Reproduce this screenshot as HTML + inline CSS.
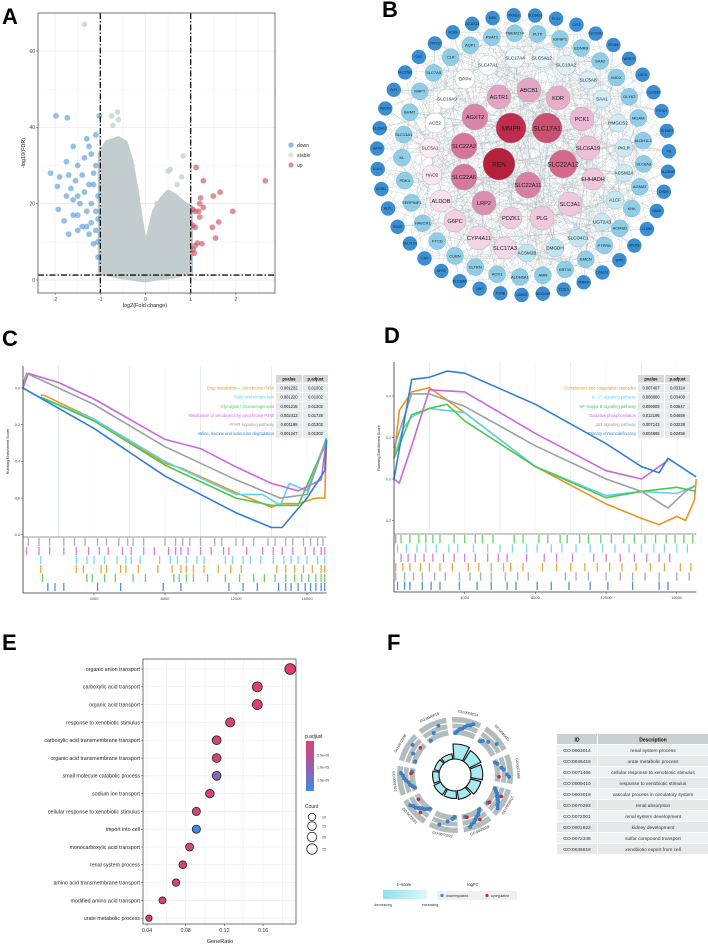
<!DOCTYPE html>
<html><head><meta charset="utf-8">
<style>
html,body{margin:0;padding:0;background:#fff;}
svg{display:block;font-family:"Liberation Sans",Arial,sans-serif;}
</style></head>
<body>
<svg id="fig" width="708" height="945" viewBox="0 0 708 945" xmlns="http://www.w3.org/2000/svg">
<rect width="708" height="945" fill="#fff"/>
<text x="2" y="24" font-size="22" font-weight="bold">A</text>
<text x="382" y="17" font-size="22" font-weight="bold">B</text>
<text x="2" y="346" font-size="22" font-weight="bold">C</text>
<text x="384" y="343" font-size="22" font-weight="bold">D</text>
<text x="2" y="650" font-size="22" font-weight="bold">E</text>
<text x="387" y="650" font-size="22" font-weight="bold">F</text>
<g id="pa"></g>
<g id="pb"></g>
<g id="pc"></g>
<g id="pd"></g>
<g id="pe"></g>
<g id="pf"></g>
</svg>
<script>
// ---------- DATA ----------
// Panel A volcano
const blueX=[-1.98,-1.73,-1.02,-1.6,-1.75,-1.9,-2.1,-1.95,-1.93,-1.8,-1.7,-1.5,-1.4,-1.3,-1.25,-1.2,-1.1,-1.5,-1.55,-1.6,-1.4,-1.45,-1.35,-1.25,-1.2,-1.15,-1.1,-1.05,-1.1,-1.05,-1.15,-1.3,-1.3,-1.75,-1.7,-1.65,-1.5,-1.35,-1.2,-1.05,-1.05,-1.1,-1.15,-1.6,-1.25,-1.5];
const blueY=[43,42.5,43,35,31,27,28,24.5,18.5,15.5,12,13,14,37,35,33,38,30,26,21,27.5,20,23,25,20,28,18,16,13,10,9.5,18,14,22,27.5,24,22,32,15,22,6,30,25,17,12,17];
const redX=[1.12,1.28,1.65,1.5,2.65,1.22,1.2,1.28,1.05,1.1,1.18,1.93,1.2,1.62,1.05,1.1,1.48,1.55,1.25,1.1,1.15,1.05,1.08];
const redY=[29.5,26,23,22,26,21.5,20,19,18.5,18,18,18,16.5,15.2,14.3,13.8,13.8,11,9.5,9,9.7,8,7];
const grayX=[-1.35,-0.62,-0.6,-0.75,-0.72,0.83,0.55,0.5,0.8,-0.85,-0.9,0.9,0.95,-0.95,-0.3,0.25,0.7,-0.8];
const grayY=[67,44,42,43,40.5,32.5,29,28.5,27,4,8,5,12,20,30,20,25,3];
const envX=[-1.0,-1.0,-0.85,-0.6,-0.45,-0.32,-0.2,-0.1,0,0.1,0.2,0.35,0.5,0.65,0.85,1.0,1.0,0.6,0.25,0,-0.3,-0.6];
const envY=[2,33,36,37,36,31,23,15,8,13,18,21,23,22,20,19,2,1,0.5,0,0.5,1];
// Panel E dot plot
const goTerms=["organic anion transport","carboxylic acid transport","organic acid transport","response to xenobiotic stimulus","carboxylic acid transmembrane transport","organic acid transmembrane transport","small molecule catabolic process","sodium ion transport","cellular response to xenobiotic stimulus","import into cell","monocarboxylic acid transport","renal system process","amino acid transmembrane transport","modified amino acid transport","urate metabolic process"];
const geneRatio=[0.188,0.154,0.154,0.126,0.112,0.112,0.112,0.105,0.091,0.091,0.084,0.077,0.070,0.056,0.042];
const goCount=[27,22,22,18,16,16,16,15,13,13,12,11,10,8,6];
const pAdjust=[1e-6,1e-6,1e-6,1.5e-6,2e-6,2e-6,1.05e-5,2e-6,2e-6,1.75e-5,2.5e-6,1.5e-6,1.5e-6,2e-6,1e-6];
const eTicks=[0.04,0.08,0.12,0.16];
// Panel C GSEA
const cNames=["Drug metabolism \u2013 cytochrome P450","Fatty acid metabolism","Glycolysis / Gluconeogenesis","Metabolism of xenobiotics by cytochrome P450","PPAR signaling pathway","Valine, leucine and isoleucine degradation"];
const cPval=["0.001232","0.001220","0.001215","0.002413","0.001189","0.001247"];
const cPadj=["0.01302","0.01302","0.01302","0.01728","0.01302","0.01302"];
const cColors=["#e8961e","#5ed1f2","#4cc94c","#cc66dd","#9aa0a3","#2f7fd8"];
const cRankX=[[1000,1200,4000,8000,9000,12000,14000,14500,15500,16500,17000,17100],[1000,4000,8000,12000,13500,14500,15000,16000,17100],[1000,4000,8000,12000,14000,15500,16500,17100],[0,300,2000,4000,8000,10000,12000,14000,15500,16800,17100],[0,200,2000,4000,8000,12000,14500,16000,17100],[0,4000,8000,12000,14000,14600,16000,17000,17100]];
const cES=[[-0.04,-0.04,-0.17,-0.41,-0.44,-0.57,-0.65,-0.63,-0.63,-0.6,-0.6,-0.28],[-0.05,-0.17,-0.40,-0.58,-0.58,-0.64,-0.52,-0.56,-0.27],[-0.05,-0.18,-0.42,-0.60,-0.64,-0.64,-0.42,-0.30],[0,0.08,0.03,-0.06,-0.28,-0.33,-0.43,-0.52,-0.56,-0.5,-0.28],[0.02,0.08,0.0,-0.09,-0.32,-0.5,-0.6,-0.58,-0.28],[0,-0.22,-0.48,-0.68,-0.76,-0.76,-0.60,-0.45,-0.28]];
const cRugOrder=[4,3,1,0,2,5];
const cRug=[[300,900,1500,2300,2900,3500,4200,4700,5400,5900,6200,6800,8000,8600,9000,9400,10000,10800,11200,12000,12400,13000,13800,14200,14800,15200,15800,16200,16600,16900],[200,900,1500,2300,3000,3700,4300,4800,5600,6100,6800,7400,8200,8600,8900,9300,10000,10600,11300,11600,12600,13500,14100,14600,15200,15900,16400,16800,17000],[1000,3000,3600,4000,4600,5300,5800,6100,6600,7700,8300,8700,9200,9800,10200,11400,11800,12400,12800,13400,14100,14700,15100,15500,16000,16600,17000],[1000,3000,3400,4400,4700,5500,5800,6500,7600,8400,8900,9200,9600,10200,11000,11700,12300,14300,14800,15300,15800,16300,16800,17000],[1100,3600,3900,4600,5200,6200,6900,8500,8800,9200,9600,10400,11400,12200,13000,13600,14200,14800,15300,15700,16100,16500,16800,17000],[1400,1800,2300,4200,5500,7900,8900,11600,12400,13200,14400,14800,15100,15500,15900,16200,16500,16800,17000]];
// Panel D GSEA
const dNames=["Complement and coagulation cascades","IL\u221217 signaling pathway","NF\u2212kappa B signaling pathway","Oxidative phosphorylation","p53 signaling pathway","Primary immunodeficiency"];
const dPval=["0.007407","0.008000","0.009009","0.012195","0.007143","0.004695"];
const dPadj=["0.03314","0.03409","0.03647","0.04659","0.03238","0.02456"];
const dRankX=[[0,300,1000,2000,4000,8000,12000,14000,15000,16000,16500,17000,17100],[0,500,1000,2000,4000,8000,12000,14000,16000,17100],[0,1000,2000,3000,4000,8000,12000,14000,16000,17100],[0,300,1000,2000,4000,8000,12000,14000,15500],[0,1000,2000,3000,4000,8000,12000,14000,15500,16500,17100],[0,1000,2000,3000,4000,8000,12000,14000,15000,15500,17100]];
const dES=[[0.1,0.33,0.42,0.44,0.32,0.06,-0.12,-0.19,-0.22,-0.18,-0.2,-0.1,0.0],[0.1,0.24,0.3,0.34,0.32,0.06,-0.08,-0.06,-0.07,-0.03],[0.1,0.31,0.34,0.36,0.28,0.06,-0.09,-0.06,-0.04,-0.06],[0,-0.02,0.16,0.43,0.42,0.22,0.04,0.0,0.09],[0.15,0.41,0.41,0.38,0.35,0.16,0.0,-0.06,-0.14,-0.06,-0.03],[0,0.48,0.49,0.52,0.51,0.36,0.17,0.06,0.03,0.1,0.01]];
const dRugOrder=[2,1,3,0,4,5];
const dRug=[[100,400,900,1400,1800,2200,2600,3400,4000,4600,5000,5600,6800,7300,8200,8700,9400,9800,10500,11000,11700,12300,13000,13600,14200,14800,15400,15900,16400,16900],[200,700,1300,1800,2400,3100,3600,4500,5300,6000,6700,7500,8100,8900,9500,10300,11100,11800,12500,13300,14000,14700,15300,16000,16600],[400,800,1200,1700,2200,2800,3400,4000,4600,5300,5900,6400,7500,8500,9200,10100,11300,12000,12800,13600,14300,15000,15600],[100,500,900,1500,2000,2600,3300,4200,4800,5500,6200,6600,7300,8400,9200,10000,10800,11500,12200,12900,13700,14500,15300,16200,16800],[100,600,1100,1600,2300,2900,3700,4300,4900,5500,6300,7000,7600,9700,10300,11000,12000,12800,13500,14200,15000,16000,16700],[200,600,900,1600,2100,2600,3700,4700,5500,6400,6900,8100,8900,9900,11100,12100,13500,15000,15500]];
// Panel F
const fIds=["GO:0003014","GO:0046415","GO:0071466","GO:0009410","GO:0003018","GO:0070293","GO:0072001","GO:0001822","GO:0072348","GO:0046618"];
const fDesc=["renal system process","urate metabolic process","cellular response to xenobiotic stimulus","response to xenobiotic stimulus","vascular process in circulatory system","renal absorption","renal system development","kidney development","sulfur compound transport","xenobiotic export from cell"];
const fCount=[14,12,11,10,8,7,7,6,5,5];
const fDown=[8,4,6,10,9,4,8,9,3,3];
const fUp=[0,0,1,2,2,0,2,1,1,0];

// ---------- HELPERS ----------
const NS="http://www.w3.org/2000/svg";
function mk(tag,parent,attrs){const e=document.createElementNS(NS,tag);for(const k in attrs)e.setAttribute(k,attrs[k]);parent.appendChild(e);return e;}
function txt(parent,x,y,s,size,anchor,fill,extra){const e=mk('text',parent,Object.assign({x:x,y:y,'font-size':size,'text-anchor':anchor||'start',fill:fill||'#222'},extra||{}));e.textContent=s;return e;}

// ---------- PANEL A ----------
(function(){
const g=document.getElementById('pa');
const L=38,R=275,T=13,B=293;
const sx=v=>145.5+v*45.2, sy=v=>280-v*3.817;
let e;
e=mk('rect',g,{x:L,y:T,width:R-L,height:B-T,fill:'#fff'});


for(let v=-2;v<=2.6;v+=0.5){e=mk('line',g,{x1:sx(v),x2:sx(v),y1:T,y2:B,stroke:'#e6ecee','stroke-width':Number.isInteger(v)?0.7:0.4});}
for(let v=0;v<=70;v+=10){e=mk('line',g,{x1:L,x2:R,y1:sy(v),y2:sy(v),stroke:'#e6ecee','stroke-width':v%20==0?0.7:0.4});}
let d='';for(let i=0;i<envX.length;i++)d+=(i?'L':'M')+sx(envX[i])+','+sy(envY[i]);
e=mk('path',g,{d:d+'Z',fill:'#c3cdcf',stroke:'#c3cdcf','stroke-width':5,'stroke-linejoin':'round'});


for(let i=0;i<grayX.length;i++){e=mk('circle',g,{cx:sx(grayX[i]),cy:sy(grayY[i]),r:2.8,fill:'#c3cdcf','fill-opacity':0.75});

}
for(let i=0;i<blueX.length;i++){e=mk('circle',g,{cx:sx(blueX[i]),cy:sy(blueY[i]),r:2.9,fill:'#3b8bd6','fill-opacity':0.55});

}
for(let i=0;i<redX.length;i++){e=mk('circle',g,{cx:sx(redX[i]),cy:sy(redY[i]),r:2.9,fill:'#cf4455','fill-opacity':0.6});

}
const da={stroke:'#111','stroke-width':1.3,'stroke-dasharray':'6,2,1.5,2'};
e=mk('line',g,Object.assign({x1:sx(-1),x2:sx(-1),y1:T,y2:B},da));


e=mk('line',g,Object.assign({x1:sx(1),x2:sx(1),y1:T,y2:B},da));


e=mk('line',g,Object.assign({x1:L,x2:R,y1:sy(1.3),y2:sy(1.3)},da));


e=mk('rect',g,{x:L,y:T,width:R-L,height:B-T,fill:'none',stroke:'#555','stroke-width':0.8});


[-2,-1,0,1,2].forEach(v=>{mk('line',g,{x1:sx(v),x2:sx(v),y1:B,y2:B+2,stroke:'#333','stroke-width':0.5});e=txt(g,sx(v),B+8,String(v),5,'middle','#444');

});
[0,20,40,60].forEach(v=>{mk('line',g,{x1:L-2,x2:L,y1:sy(v),y2:sy(v),stroke:'#333','stroke-width':0.5});e=txt(g,L-3,sy(v)+1.8,String(v),5,'end','#444');

});
e=txt(g,145,307,'log2(Fold change)',5.5,'middle','#222');


e=txt(g,0,0,'-log10(FDR)',5.5,'middle','#222',{transform:'translate(25,153) rotate(-90)'});


[['down','#3b8bd6',145],['stable','#c3cdcf',155],['up','#cf4455',165]].forEach(a=>{
e=mk('circle',g,{cx:291,cy:a[2],r:2.6,fill:a[1],'fill-opacity':0.6});


e=txt(g,297,a[2]+1.8,a[0],5,'start','#333');

});
})();

// ---------- PANEL B ----------
(function(){
const g=document.getElementById('pb');
const inner=[["REN",499,164,16,"#b5203a"],["MMP9",511,128,15,"#c02c4d"],["SLC17A1",547,128,15,"#cc4f72"],["SLC22A12",563,164,14,"#d4678a"],["SLC22A2",464,146,13,"#d77599"],["SLC22A6",464,177,13,"#d67899"],["SLC22A11",528,185,13,"#d980a2"],["AGXT2",475,117,13,"#d985a6"],["LRP2",484,203,12,"#db8fb0"],["AGTR1",499,97,12,"#e2a4c2"],["ABCB1",529,90,12,"#e3a7c5"],["KDR",558,98,12,"#e6acc8"],["PCK1",582,119,12,"#eab8d2"],["SLC6A19",588,148,12,"#edc0d8"],["EHHADH",593,179,11,"#efc6da"],["SLC3A1",570,204,12,"#f0c7dc"],["PLG",542,218,12,"#f0c8dd"],["PDZK1",511,218,11,"#f0cadf"],["G6PC",455,221,11,"#f2cfe1"],["CYP4A11",479,238,12,"#f4d4e6"],["SLC17A3",505,248,11,"#f5d8e8"],["ALDOB",441,201,11,"#f7e0ec"],["HAO2",432,175,10,"#fae6f0"],["SLC5A1",430,148,10,"#fbecf3"],["ACE2",435,123,10,"#ffffff"],["SLC16A9",447,99,10,"#ffffff"],["DPP4",465,79,10,"#ffffff"],["SLC47A1",488,65,10,"#f7fbfd"],["SLC17A4",515,58,10,"#eef6fb"],["SLC5A12",542,58,10,"#e8f3f9"],["SLC10A2",566,65,10,"#e0f0f7"],["SLC5A8",588,80,9,"#d7eef5"],["SAA1",602,99,9,"#d3ecf4"],["HMGCS2",618,123,9,"#d0ebf3"],["PKLR",624,148,9,"#cdeaf2"],["ACSM2A",624,173,9,"#cbe9f2"],["A1CF",615,200,9,"#c8e8f1"],["UGT2A3",602,222,9,"#c6e7f1"],["SLCO4C1",578,238,9,"#c3e5f0"],["DMGDH",555,248,9,"#c0e4f0"],["ACSM2B",527,253,9,"#bde3ef"]];
const ring2=["TMEM174","PLTP","IGFBP1","EDNRB","SAA2","MIOX","GLYAT","MGAM","ALDH1L1","SLC6A3","AGMAT","KHK","ACMSD","PTPRB","EMCN","KRT19","AMN","ALDH6A1","AOX1","CLTRN","CUBN","FTCD","HAVCR1","SERPINF1","PDK4","KL","SLC13A1","BHMT","MAPT","SLC7A5","C1R","AQP1","PSAT1"];
const ring1=["MDK","PKHD1","SLC5A10","PLS1","CYS1","SLCO2A1","EFNA5","WDR72","LIN7A","C1orf210","PTHLH","STEAP3","PG","SLC39A5","DHDH","SBDS","CLDN2","SPON1","SPP2","LGALS2","SMIM24","C1QL1","SELENOP","CAVIN2","TGFBI","LBP","SLC38A5","NPR3","CA4","SULT1C4","RGS5","ALPL","UCHL1","IGLL5","GATM","SLC6A18","PDGFD","SLPI","SLC27A2","DDC","CYP2J2","SCGN","SLC6A13"];
const cx=523,cy=155;
const nodes=[];
ring1.forEach((n,i)=>{const a=(-102+360*i/ring1.length)*Math.PI/180;nodes.push([n,cx+146*Math.cos(a),cy+140*Math.sin(a),7,'#3a8fd4',3.2,'#2a76b6']);});
ring2.forEach((n,i)=>{const a=(-94+360*i/ring2.length)*Math.PI/180;nodes.push([n,cx+121*Math.cos(a),cy+122*Math.sin(a),8.5,'#8fcce5',4,'#6fb2cf']);});
inner.slice().reverse().forEach(n=>nodes.push([n[0],n[1],n[2],n[3],n[4],n[3]>=14?6.5:(n[3]>=11?5.6:4.6),'#9aa8ae']));
const eg=mk('g',g,{stroke:'#a9b6ba','stroke-width':0.35,'stroke-opacity':0.7});


const N=nodes.length;
for(let i=0;i<N;i++)for(let j=i+1;j<N;j++){if(i<ring1.length&&j<ring1.length)continue;if(((i*31+j*17)%11)==0){mk('line',eg,{x1:nodes[i][1].toFixed(1),y1:nodes[i][2].toFixed(1),x2:nodes[j][1].toFixed(1),y2:nodes[j][2].toFixed(1)});}}
nodes.forEach(n=>{
const ng=mk('g',g,{});


mk('circle',ng,{cx:n[1].toFixed(1),cy:n[2].toFixed(1),r:n[3],fill:n[4],stroke:n[6],'stroke-width':0.4});
txt(ng,n[1].toFixed(1),(n[2]+n[5]*0.35).toFixed(1),n[0],n[5],'middle','#1a1a1a');
});
})();

// ---------- GSEA builder ----------
function gsea(gid,P){
const g=document.getElementById(gid);
const sx=v=>P.x0+v*P.kx, sy=v=>P.y0-v*P.ky;
let e;
P.grid.forEach(v=>{e=mk('line',g,{x1:sx(v),x2:sx(v),y1:P.top,y2:P.esB,stroke:'#e4ebee','stroke-width':0.9});});
P.ticks.forEach(v=>{e=mk('line',g,{x1:sx(v),x2:sx(v),y1:P.top,y2:P.esB,stroke:'#eef2f4','stroke-width':0.5});});
for(let s=0;s<6;s++){
let pts=P.rx[s].map((v,i)=>sx(v).toFixed(1)+','+sy(P.es[s][i]).toFixed(1)).join(' ');
e=mk('polyline',g,{points:pts,fill:'none',stroke:P.col[s],'stroke-width':1.6,'stroke-linejoin':'round'});


}
// rugs
const rh=(P.axB-P.esB-2)/6;
P.order.forEach((s,row)=>{
const y1=P.esB+1+row*rh;
P.rug[row].forEach(v=>{e=mk('line',g,{x1:sx(v),x2:sx(v),y1:y1,y2:y1+rh-1,stroke:P.col[s],'stroke-width':1.3,'stroke-opacity':0.85});});
});
mk('line',g,{x1:P.x0,x2:P.x0,y1:P.top,y2:P.axB,stroke:'#333','stroke-width':0.8});
mk('line',g,{x1:P.x0,x2:sx(17100),y1:P.esB,y2:P.esB,stroke:'#333','stroke-width':0.6});
mk('line',g,{x1:P.x0,x2:sx(17100),y1:P.axB,y2:P.axB,stroke:'#333','stroke-width':0.8});
P.yt.forEach(v=>{mk('line',g,{x1:P.x0-2,x2:P.x0,y1:sy(v),y2:sy(v),stroke:'#333','stroke-width':0.5});e=txt(g,P.x0-3,sy(v)+1.3,v.toFixed(1),3.6,'end','#444');

});
P.ticks.forEach(v=>{mk('line',g,{x1:sx(v),x2:sx(v),y1:P.axB,y2:P.axB+2,stroke:'#333','stroke-width':0.5});e=txt(g,sx(v),P.axB+7,String(v),4,'middle','#444');

});
e=txt(g,0,0,'Running Enrichment Score',3.8,'middle','#222',{transform:'translate('+(P.x0-14)+','+((P.top+P.esB)/2)+') rotate(-90)'});


// table
const tb=mk('g',g,{});


mk('rect',tb,{x:P.tx,y:P.ty,width:26,height:7.5,fill:'#d3d9d9'});
mk('rect',tb,{x:P.tx+27,y:P.ty,width:25,height:7.5,fill:'#d3d9d9'});
txt(tb,P.tx+13,P.ty+5.5,'pvalue',4.2,'middle','#111',{'font-weight':'bold'});
txt(tb,P.tx+39.5,P.ty+5.5,'p.adjust',4.2,'middle','#111',{'font-weight':'bold'});
for(let i=0;i<6;i++){const y=P.ty+9+i*9.1;
mk('rect',tb,{x:P.tx,y:y,width:26,height:8.3,fill:'#e7ebeb'});
mk('rect',tb,{x:P.tx+27,y:y,width:25,height:8.3,fill:'#e7ebeb'});
txt(tb,P.tx+13,y+5.6,P.pv[i],4.1,'middle','#111');
txt(tb,P.tx+39.5,y+5.6,P.pa[i],4.1,'middle','#111');
e=txt(g,P.tx-2,y+5.6,P.names[i],4.1,'end',P.col[i]);

}
}
gsea('pc',{x0:23,kx:71/4000,y0:388,ky:36.7/0.2,top:366,esB:537,axB:593,grid:[2000,6000,10000,14000],ticks:[4000,8000,12000,16000],yt:[0,-0.2,-0.4,-0.6,-0.8],col:cColors,rx:cRankX,es:cES,order:cRugOrder,rug:cRug,tx:276,ty:375,pv:cPval,pa:cPadj,names:cNames});
gsea('pd',{x0:394,kx:70.7/4000,y0:479,ky:41.5/0.2,top:362,esB:534,axB:592,grid:[2000,6000,10000,14000],ticks:[4000,8000,12000,16000],yt:[0.4,0.2,0,-0.2],col:cColors,rx:dRankX,es:dES,order:dRugOrder,rug:dRug,tx:638,ty:375,pv:dPval,pa:dPadj,names:dNames});

// ---------- PANEL E ----------
(function(){
const g=document.getElementById('pe');
const L=143,R=296,T=659,B=924;
const sx=v=>147+(v-0.04)*38.7/0.04, sy=i=>669+i*17.8;
const rad=c=>1.2+Math.sqrt(c)*0.8;
function col(p){const t=Math.min(1,Math.max(0,(p-1e-6)/(1.8e-5-1e-6)));const a=[224,64,112],b=[60,140,230];return 'rgb('+a.map((v,i)=>Math.round(v+(b[i]-v)*t)).join(',')+')';}
let e;
mk('rect',g,{x:L,y:T,width:R-L,height:B-T,fill:'#fff'});
for(let v=0.04;v<=0.2;v+=0.02){mk('line',g,{x1:sx(v),x2:sx(v),y1:T,y2:B,stroke:'#e6ecee','stroke-width':0.5});}
goTerms.forEach((t,i)=>{mk('line',g,{x1:L,x2:R,y1:sy(i),y2:sy(i),stroke:'#e6ecee','stroke-width':0.6});
mk('line',g,{x1:L-2,x2:L,y1:sy(i),y2:sy(i),stroke:'#333','stroke-width':0.5});
e=txt(g,L-3,sy(i)+1.9,t,5.3,'end','#222');


e=mk('circle',g,{cx:sx(geneRatio[i]),cy:sy(i),r:rad(goCount[i]),fill:col(pAdjust[i]),stroke:'#222','stroke-width':0.8});

});
e=mk('rect',g,{x:L,y:T,width:R-L,height:B-T,fill:'none',stroke:'#555','stroke-width':0.8});


eTicks.forEach(v=>{mk('line',g,{x1:sx(v),x2:sx(v),y1:B,y2:B+2,stroke:'#333','stroke-width':0.5});e=txt(g,sx(v),B+8,v.toFixed(2),5.3,'middle','#333');

});
e=txt(g,220,943,'GeneRatio',5.5,'middle','#222');


const df=mk('defs',g,{});const lg=mk('linearGradient',df,{id:'pgrad',x1:0,y1:0,x2:0,y2:1});
mk('stop',lg,{offset:'0','stop-color':'#e04070'});mk('stop',lg,{offset:'0.5','stop-color':'#9c5bb0'});mk('stop',lg,{offset:'1','stop-color':'#3c8ce6'});
e=txt(g,305,738,'p.adjust',5,'start','#222');


e=mk('rect',g,{x:306,y:741,width:8,height:50,fill:'url(#pgrad)'});


[['5.0e-06',755],['1.0e-05',767],['1.5e-05',780]].forEach(a=>{e=txt(g,317,a[1]+1.3,a[0],3.6,'start','#333');

});
e=txt(g,305,808,'Count',5,'start','#222');


[[10,817],[15,826],[20,837],[25,849]].forEach(a=>{mk('circle',g,{cx:312,cy:a[1],r:rad(a[0]),fill:'none',stroke:'#222','stroke-width':0.8});
e=txt(g,322,a[1]+1.3,String(a[0]),3.6,'start','#333');

});
})();

// ---------- PANEL F ----------
(function(){
const g=document.getElementById('pf');
const cx=455,cy=775;
const P=(r,a)=>[cx+r*Math.cos(a),cy+r*Math.sin(a)];
function arc(r1,r2,a1,a2){const p1=P(r2,a1),p2=P(r2,a2),p3=P(r1,a2),p4=P(r1,a1);return 'M'+p1+' A'+r2+','+r2+' 0 0 1 '+p2+' L'+p3+' A'+r1+','+r1+' 0 0 0 '+p4+' Z';}
let e;
const maxC=Math.max(...fCount);
fIds.forEach((id,k)=>{
const ac=(-78+36*k)*Math.PI/180, hw=15*Math.PI/180;
const sg=mk('g',g,{});


mk('path',sg,{d:arc(40,58,ac-hw,ac+hw),fill:'#b2bcbe'});
[46,52].forEach(r=>mk('path',sg,{d:arc(r-0.6,r+0.6,ac-hw,ac+hw),fill:'#fff'}));
const h=15*fCount[k]/maxC;
mk('path',sg,{d:arc(16,16+h,ac-hw*1.05,ac+hw*1.05),fill:'#a6ebf0',stroke:'#111','stroke-width':1.1});
for(let i=0;i<fDown[k];i++){const rr=42+((i*5)%13),aa=ac-hw*0.75+hw*1.5*((i*0.37)%1);const p=P(rr,aa);mk('circle',sg,{cx:p[0].toFixed(1),cy:p[1].toFixed(1),r:1.8,fill:'#3a86d0',stroke:'#245a8c','stroke-width':0.3});}
for(let i=0;i<fUp[k];i++){const p=P(44+i*7,ac+hw*(0.55-i*0.9));mk('circle',sg,{cx:p[0].toFixed(1),cy:p[1].toFixed(1),r:1.8,fill:'#c8283c'});}
const lp=P(62,ac);const deg=-78+36*k;let rot=deg+90;if(rot>90&&rot<270)rot+=180;
txt(sg,lp[0].toFixed(1),lp[1].toFixed(1),id,3.6,'middle','#222',{transform:'rotate('+rot+' '+lp[0].toFixed(1)+' '+lp[1].toFixed(1)+')'});
});
// table
const tg=mk('g',g,{});


mk('rect',tg,{x:557,y:734,width:40,height:10,fill:'#c9d1d1'});
mk('rect',tg,{x:598,y:734,width:110,height:10,fill:'#c9d1d1'});
txt(tg,577,741.5,'ID',5,'middle','#111',{'font-weight':'bold'});
txt(tg,653,741.5,'Description',5,'middle','#111',{'font-weight':'bold'});
fIds.forEach((id,i)=>{const y=745+i*11;
mk('rect',tg,{x:557,y:y,width:40,height:10,fill:i%2?'#e4e9e9':'#edf1f1'});
mk('rect',tg,{x:598,y:y,width:110,height:10,fill:i%2?'#e4e9e9':'#edf1f1'});
txt(tg,577,y+7,id,4.8,'middle','#333');
txt(tg,653,y+7,fDesc[i],4.8,'middle','#333');});
// legend
const df=mk('defs',g,{});const lg=mk('linearGradient',df,{id:'zgrad',x1:0,y1:0,x2:1,y2:0});
mk('stop',lg,{offset:'0','stop-color':'#8fe3ea'});mk('stop',lg,{offset:'1','stop-color':'#dff6f8'});
e=txt(g,404,886,'z\u2212score',4.2,'middle','#222');


e=mk('rect',g,{x:383,y:890,width:44,height:9,fill:'url(#zgrad)'});


txt(g,383,906,'decreasing',3.6,'middle','#333');
txt(g,430,906,'increasing',3.6,'middle','#333');
e=txt(g,473,886,'logFC',4.2,'middle','#222');


mk('rect',g,{x:437,y:891,width:80,height:9,fill:'#eef1f1'});
mk('circle',g,{cx:442,cy:895.5,r:1.6,fill:'#3a86d0'});
txt(g,446,897,'downregulated',3.4,'start','#333');
mk('circle',g,{cx:487,cy:895.5,r:1.6,fill:'#c8283c'});
txt(g,491,897,'upregulated',3.4,'start','#333');
})();
</script>
</body></html>
